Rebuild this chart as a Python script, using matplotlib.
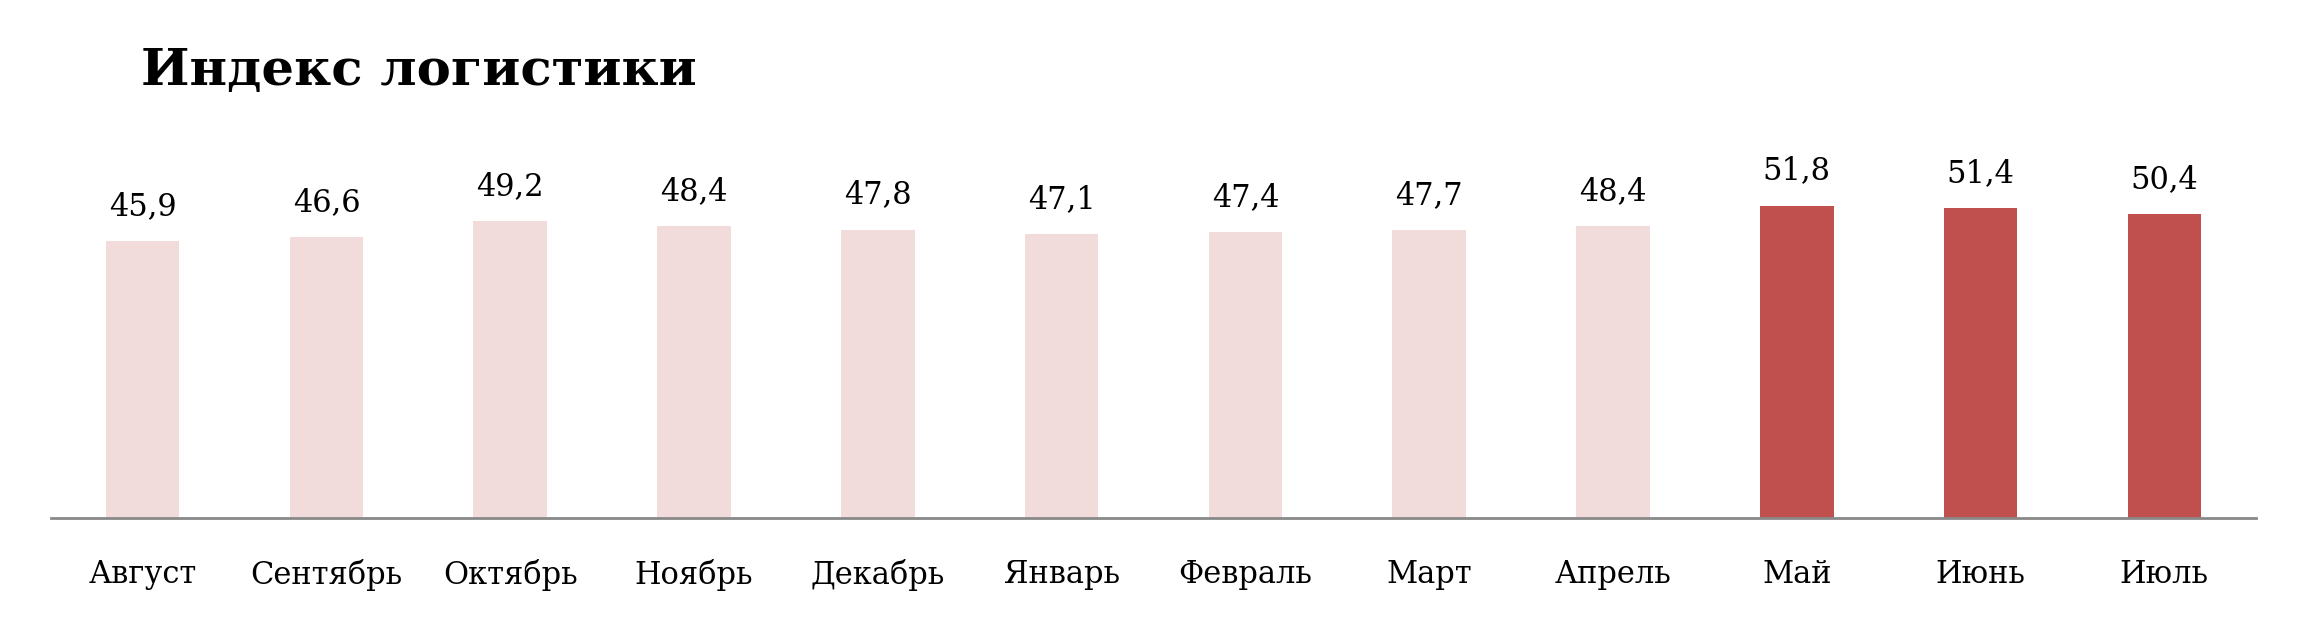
import matplotlib.pyplot as plt

months = ["Август", "Сентябрь", "Октябрь", "Ноябрь", "Декабрь", "Январь",
          "Февраль", "Март", "Апрель", "Май", "Июнь", "Июль"]
values = [45.9, 46.6, 49.2, 48.4, 47.8, 47.1, 47.4, 47.7, 48.4, 51.8, 51.4, 50.4]
highlight = [False] * 9 + [True] * 3

plt.rcParams["font.family"] = ["DejaVu Serif"]

fig = plt.figure(figsize=(23.07, 6.2), dpi=100)
ax = fig.add_axes([0.022, 0.165, 0.956, 0.68])

colors = ["#C0504D" if h else "#F2DBDB" for h in highlight]
x = range(len(months))
bars = ax.bar(x, values, width=0.4, color=colors)
for b, v in zip(bars, values):
    ax.text(b.get_x() + b.get_width() / 2, v + 3.2, f"{v:.1f}".replace(".", ","),
            ha="center", va="bottom", fontsize=22)

ax.set_xlim(-0.5, len(months) - 0.5)
ax.set_ylim(0, 70)
ax.set_xticks(list(x))
ax.set_xticklabels(months, fontsize=22)
ax.tick_params(axis="x", length=0, pad=30)
ax.set_yticks([])
for s in ["top", "right", "left"]:
    ax.spines[s].set_visible(False)
ax.spines["bottom"].set_color("#898989")
ax.spines["bottom"].set_linewidth(2)

fig.text(0.061, 0.885, "Индекс логистики", fontsize=37, fontweight="bold",
         ha="left", va="center")

fig.savefig("out.png", dpi=100)
